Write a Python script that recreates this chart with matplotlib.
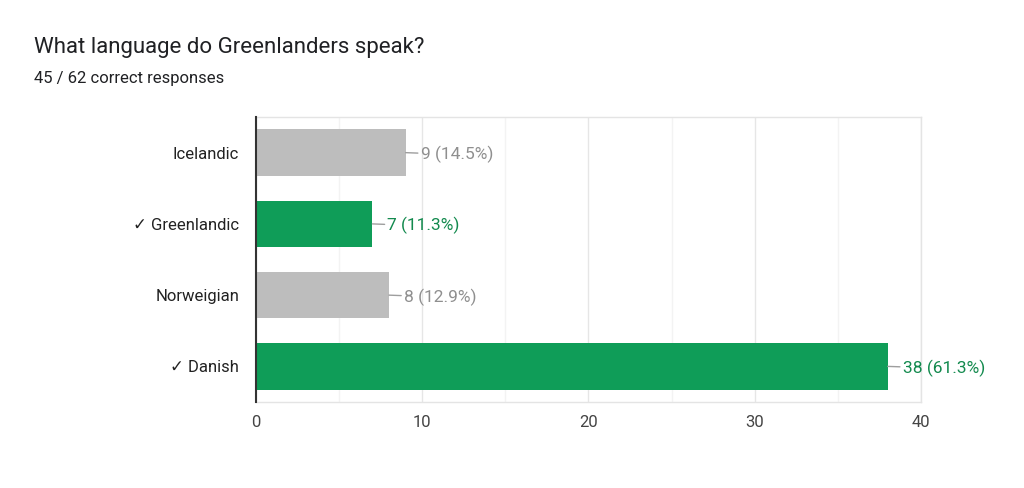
import matplotlib.pyplot as plt
from matplotlib.ticker import MultipleLocator

# --- DATA ---
answers = ["Icelandic", "\u2713 Greenlandic", "Norweigian", "\u2713 Danish"]
counts = [9, 7, 8, 38]
percents = [14.5, 11.3, 12.9, 61.3]
correct = [False, True, False, True]

title = "What language do Greenlanders speak?"
subtitle = "45 / 62 correct responses"

GREEN = "#0f9d58"
GREY = "#bdbdbd"
GREEN_TXT = "#138a4e"
GREY_TXT = "#8f8f8f"

plt.rcParams['font.family'] = ['Roboto', 'DejaVu Sans']

fig = plt.figure(figsize=(10.24, 4.88), dpi=100)
ax = fig.add_axes([0.25, 0.1762, 0.6494, 0.584])

ypos = list(range(len(answers)))
colors = [GREEN if c else GREY for c in correct]
ax.barh(ypos, counts, height=0.65, color=colors, zorder=3)

ax.set_ylim(len(answers) - 0.5, -0.5)
ax.set_xlim(0, 40)
ax.xaxis.set_major_locator(MultipleLocator(10))
ax.xaxis.set_minor_locator(MultipleLocator(5))
ax.grid(axis='x', which='major', color='#e6e6e6', lw=1, zorder=0)
ax.grid(axis='x', which='minor', color='#f3f3f3', lw=1, zorder=0)

ax.set_yticks(ypos)
ax.set_yticklabels(answers, fontsize=12, color='#222222')
ax.tick_params(axis='y', length=0, pad=12)
ax.tick_params(axis='x', which='both', length=0, pad=9, labelsize=12, labelcolor='#444444')

for side in ['top', 'right', 'bottom']:
    ax.spines[side].set_color('#e4e4e4')
    ax.spines[side].set_linewidth(1)
ax.spines['left'].set_color('#333333')
ax.spines['left'].set_linewidth(1.5)
ax.spines['left'].set_zorder(4)

for i, (n, p, c) in enumerate(zip(counts, percents, correct)):
    ax.annotate(f"{n} ({p}%)", xy=(n, i), xytext=(15, 0), textcoords='offset pixels',
                va='center_baseline', ha='left', fontsize=12.5,
                color=GREEN_TXT if c else GREY_TXT,
                arrowprops=dict(arrowstyle='-', color='#9e9e9e', lw=1,
                                shrinkA=0, shrinkB=0))

fig.text(34 / 1024, 1 - 48 / 488, title, fontsize=16, color='#202124', va='center', ha='left')
fig.text(34 / 1024, 1 - 78 / 488, subtitle, fontsize=12, color='#202124', va='center', ha='left')

fig.savefig("out.png", dpi=100)
